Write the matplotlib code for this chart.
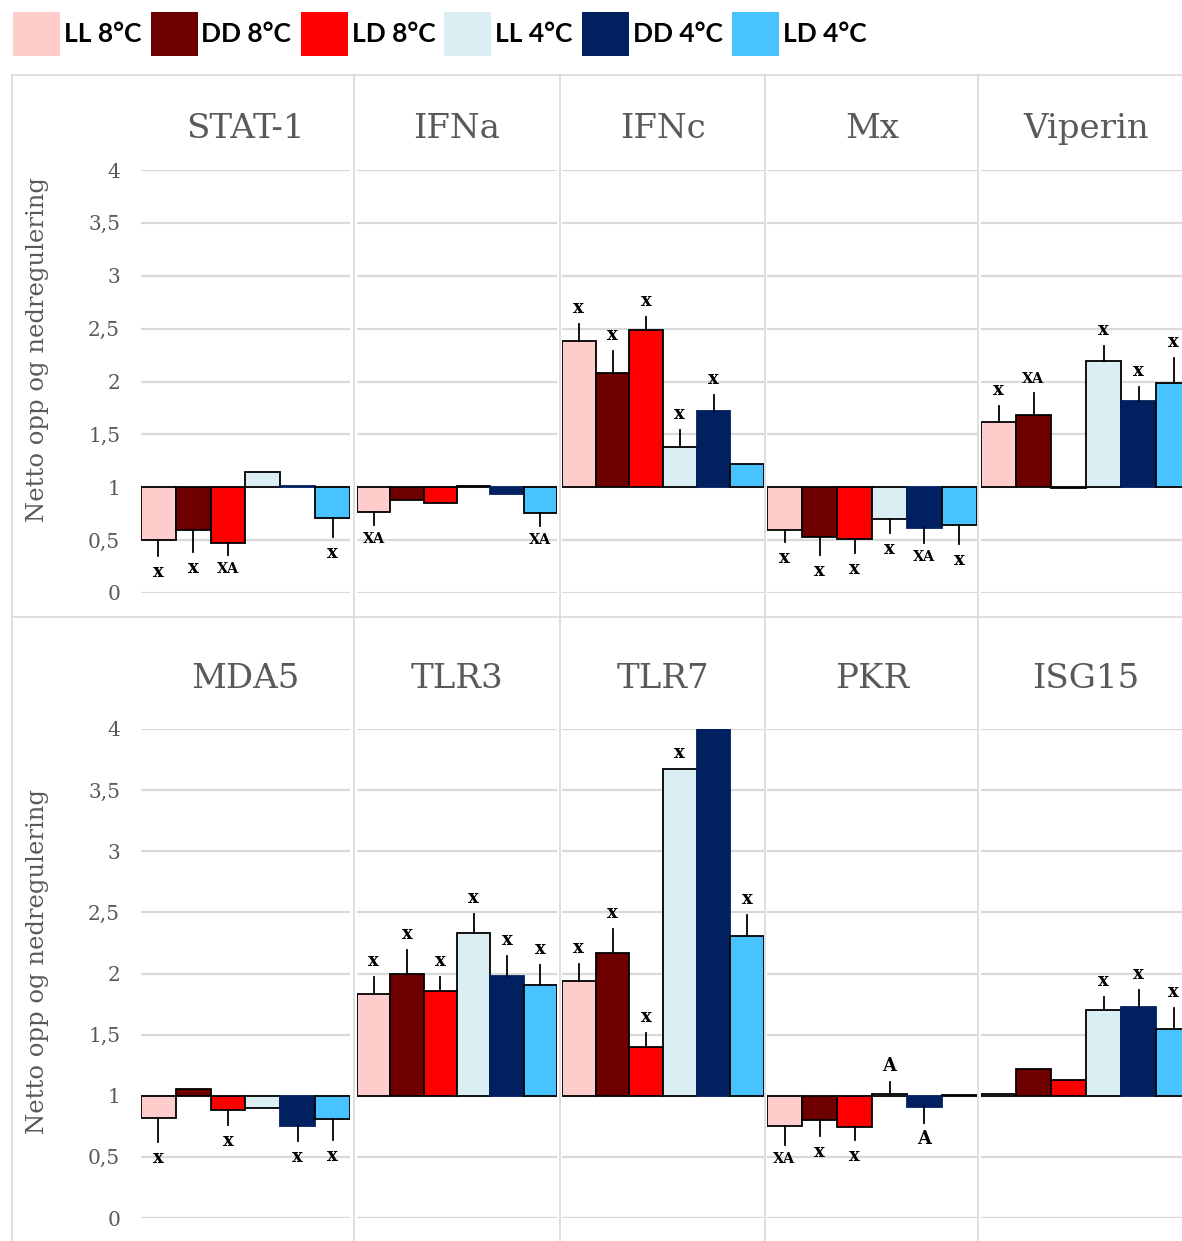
import matplotlib
matplotlib.use("Agg")
import matplotlib.pyplot as plt
from matplotlib.lines import Line2D
from matplotlib.patches import Patch
import numpy as np

W, H = 1182, 1241

conditions = ["LL 8°C", "DD 8°C", "LD 8°C", "LL 4°C", "DD 4°C", "LD 4°C"]
colors = ["#FFCCCC", "#6E0000", "#FF0000", "#DAEEF3", "#002060", "#47C3FF"]
edges = ["black", "black", "black", "black", "#002060", "black"]

genes_top = ["STAT-1", "IFNa", "IFNc", "Mx", "Viperin"]
genes_bottom = ["MDA5", "TLR3", "TLR7", "PKR", "ISG15"]

yticks = [0, 0.5, 1, 1.5, 2, 2.5, 3, 3.5, 4]
ytick_labels = ["0", "0,5", "1", "1,5", "2", "2,5", "3", "3,5", "4"]
ylabel = "Netto opp og nedregulering"

# values (fold change, baseline 1), error magnitudes, significance labels
stat1 = [0.50, 0.60, 0.47, 1.14, 1.015, 0.71]
stat1_err = [0.15, 0.21, 0.115, 0, 0, 0.18]
stat1_lab = ["x", "x", "XA", "", "", "x"]

ifna = [0.77, 0.88, 0.85, 1.01, 0.94, 0.76]
ifna_err = [0.13, 0, 0, 0, 0, 0.125]
ifna_lab = ["XA", "", "", "", "", "XA"]

ifnc = [2.38, 2.08, 2.49, 1.38, 1.72, 1.22]
ifnc_err = [0.16, 0.21, 0.12, 0.16, 0.15, 0]
ifnc_lab = ["x", "x", "x", "x", "x", ""]

mx = [0.60, 0.525, 0.51, 0.70, 0.615, 0.64]
mx_err = [0.12, 0.165, 0.13, 0.13, 0.145, 0.18]
mx_lab = ["x", "x", "x", "x", "XA", "x"]

viperin = [1.615, 1.68, 0.995, 2.19, 1.82, 1.99]
viperin_err = [0.15, 0.21, 0, 0.15, 0.13, 0.23]
viperin_lab = ["x", "XA", "", "x", "x", "x"]

mda5 = [0.815, 1.055, 0.885, 0.90, 0.75, 0.81]
mda5_err = [0.195, 0, 0.125, 0, 0.12, 0.175]
mda5_lab = ["x", "", "x", "", "x", "x"]

tlr3 = [1.833, 1.995, 1.86, 2.33, 1.98, 1.91]
tlr3_err = [0.14, 0.195, 0.11, 0.16, 0.16, 0.16]
tlr3_lab = ["x", "x", "x", "x", "x", "x"]

tlr7 = [1.94, 2.17, 1.395, 3.67, 4.4, 2.31]
tlr7_err = [0.14, 0.195, 0.12, 0, 0, 0.165]
tlr7_lab = ["x", "x", "x", "x", "", "x"]

pkr = [0.755, 0.80, 0.745, 1.016, 0.905, 1.005]
pkr_err = [0.16, 0.13, 0.105, 0.10, 0.125, 0]
pkr_lab = ["XA", "x", "x", "A", "A", ""]

isg15 = [1.015, 1.217, 1.125, 1.70, 1.73, 1.545]
isg15_err = [0, 0, 0, 0.105, 0.135, 0.175]
isg15_lab = ["", "", "", "x", "x", "x"]

top_data = [(stat1, stat1_err, stat1_lab), (ifna, ifna_err, ifna_lab),
            (ifnc, ifnc_err, ifnc_lab), (mx, mx_err, mx_lab),
            (viperin, viperin_err, viperin_lab)]
bottom_data = [(mda5, mda5_err, mda5_lab), (tlr3, tlr3_err, tlr3_lab),
               (tlr7, tlr7_err, tlr7_lab), (pkr, pkr_err, pkr_lab),
               (isg15, isg15_err, isg15_lab)]

SERIF = "DejaVu Serif"
GRAY = "#595959"
GRID = "#D9D9D9"

fig = plt.figure(figsize=(W / 100, H / 100), dpi=100)

def rect(x0, x1, ytop, ybot):
    return [x0 / W, 1 - ybot / H, (x1 - x0) / W, (ybot - ytop) / H]

panel_x = [(141, 350), (357, 557), (562, 764), (767, 977), (981, 1191)]
rows = [(170, 593, 129, genes_top, top_data, 350),
        (729, 1218, 679, genes_bottom, bottom_data, 962)]

for (ytop, ybot, title_y, genes, data, ylab_y) in rows:
    for i, ((x0, x1), gene, (vals, errs, labs)) in enumerate(zip(panel_x, genes, data)):
        ax = fig.add_axes(rect(x0, x1, ytop, ybot))
        ax.set_xlim(-0.5, 5.5)
        ax.set_ylim(0, 4)
        for y in yticks:
            ax.axhline(y, color=GRID, lw=1.6, zorder=0)
        vals = np.array(vals)
        xs = np.arange(6)
        ax.bar(xs, vals - 1, bottom=1, width=1.0, color=colors,
               edgecolor=edges, linewidth=1.3, zorder=2, clip_on=True)
        for x, v, e, lab in zip(xs, vals, errs, labs):
            sign = 1 if v >= 1 else -1
            end = v + sign * e
            if e > 0:
                ax.plot([x, x], [v, end], color="black", lw=1.3, zorder=3)
            if lab:
                size = 13 if lab == "x" else (13 if lab == "A" else 10.5)
                ax.annotate(lab, (x, end), xytext=(0, 5 * sign),
                            textcoords="offset points", ha="center",
                            va="bottom" if sign > 0 else "top",
                            fontsize=size, fontweight="bold",
                            family=SERIF, color="black", zorder=4)
        for s in ax.spines.values():
            s.set_visible(False)
        ax.set_xticks([])
        if i == 0:
            ax.set_yticks(yticks)
            ax.set_yticklabels(ytick_labels, family=SERIF, fontsize=14.5, color=GRAY)
            ax.tick_params(axis="y", length=0, pad=15)
        else:
            ax.set_yticks([])
        ax.patch.set_visible(False)
        fig.text((x0 + x1) / 2 / W, 1 - title_y / H, gene, ha="center", va="center",
                 family=SERIF, fontsize=24.5, color=GRAY)
    fig.text(38 / W, 1 - ylab_y / H, ylabel, rotation=90, ha="center", va="center",
             family=SERIF, fontsize=17.5, color=GRAY)

# panel borders
for x in [12, 354, 560, 765, 978]:
    fig.add_artist(Line2D([x / W, x / W], [1 - 75 / H, 0], color=GRID, lw=1.2))
for y in [75, 617]:
    fig.add_artist(Line2D([12 / W, 1], [1 - y / H, 1 - y / H], color=GRID, lw=1.2))

handles = [Patch(facecolor=c, edgecolor="none") for c in colors]
fig.legend(handles, conditions, loc="upper left",
           bbox_to_anchor=(13 / W, 1 - 12 / H), ncol=6, frameon=False,
           prop={"family": "Lato", "weight": "bold", "size": 19},
           handlelength=1.78, handleheight=2.2, handletextpad=0.15,
           columnspacing=0.35, borderpad=0, borderaxespad=0)

fig.savefig("out.png", dpi=100)
